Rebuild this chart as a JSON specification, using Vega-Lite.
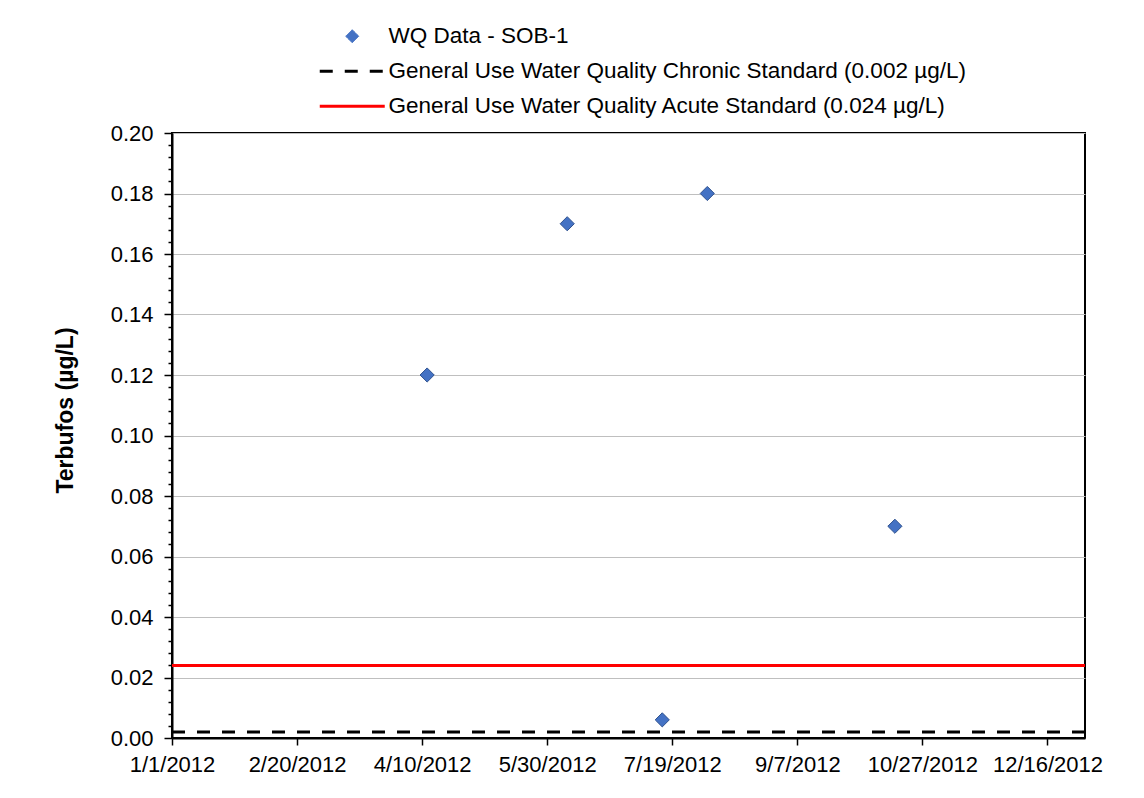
{
  "$schema": "https://vega.github.io/schema/vega-lite/v6.json",
  "width": 913,
  "height": 605,
  "autosize": "none",
  "padding": {"left": 172, "top": 133, "right": 59, "bottom": 60},
  "background": "white",
  "config": {
    "font": "Liberation Sans",
    "view": {"stroke": "black", "strokeWidth": 2}
  },
  "datasets": {
    "samples": [
      {"date": "2012-04-12", "value": 0.12, "series": "WQ Data - SOB-1"},
      {"date": "2012-06-07", "value": 0.17, "series": "WQ Data - SOB-1"},
      {"date": "2012-07-15", "value": 0.006, "series": "WQ Data - SOB-1"},
      {"date": "2012-08-02", "value": 0.18, "series": "WQ Data - SOB-1"},
      {"date": "2012-10-16", "value": 0.07, "series": "WQ Data - SOB-1"}
    ],
    "standards": [
      {"series": "General Use Water Quality Chronic Standard (0.002 µg/L)", "value": 0.002},
      {"series": "General Use Water Quality Acute Standard (0.024 µg/L)", "value": 0.024}
    ]
  },
  "resolve": {"axis": {"y": "independent"}},
  "layer": [
    {
      "data": {"name": "standards"},
      "mark": {"type": "rule", "strokeWidth": 3},
      "encoding": {
        "y": {
          "field": "value",
          "type": "quantitative",
          "scale": {"domain": [0, 0.2], "nice": false, "zero": true},
          "axis": {
            "values": [0, 0.02, 0.04, 0.06, 0.08, 0.1, 0.12, 0.14, 0.16, 0.18, 0.2],
            "format": ".2f",
            "labelFontSize": 22,
            "labelColor": "black",
            "labelPadding": 11,
            "tickSize": 8,
            "tickColor": "black",
            "tickWidth": 1.5,
            "domainColor": "black",
            "domainWidth": 2,
            "grid": true,
            "gridColor": "#bfbfbf",
            "gridWidth": 1,
            "title": "Terbufos (µg/L)",
            "titleFontSize": 23,
            "titleFontWeight": "bold",
            "titleColor": "black",
            "titlePadding": 33,
            "titleY": 277
          }
        },
        "color": {
          "field": "series",
          "type": "nominal",
          "scale": {
            "domain": ["WQ Data - SOB-1", "General Use Water Quality Chronic Standard (0.002 µg/L)", "General Use Water Quality Acute Standard (0.024 µg/L)"],
            "range": ["#4472C4", "black", "#FF0000"]
          },
          "legend": {
            "title": null,
            "orient": "none",
            "legendX": 169,
            "legendY": -108,
            "padding": 0,
            "labelFontSize": 22.5,
            "labelColor": "black",
            "labelLimit": 0,
            "labelOffset": 25,
            "rowPadding": 12,
            "symbolSize": 100,
            "encode": {
              "symbols": {
                "update": {
                  "shape": {"signal": "datum.value === 'WQ Data - SOB-1' ? 'diamond' : 'stroke'"},
                  "size": {"signal": "datum.value === 'WQ Data - SOB-1' ? 170 : 4225"},
                  "fill": {"signal": "datum.value === 'WQ Data - SOB-1' ? '#4472C4' : 'transparent'"},
                  "stroke": {"signal": "datum.value === 'WQ Data - SOB-1' ? '#2F528F' : (datum.value === 'General Use Water Quality Chronic Standard (0.002 µg/L)' ? 'black' : '#FF0000')"},
                  "strokeWidth": {"signal": "datum.value === 'WQ Data - SOB-1' ? 1 : 3"},
                  "strokeDash": {"signal": "datum.value === 'General Use Water Quality Chronic Standard (0.002 µg/L)' ? [13, 12] : [1, 0]"},
                  "opacity": {"value": 1}
                }
              }
            }
          }
        },
        "strokeDash": {
          "field": "series",
          "type": "nominal",
          "scale": {
            "domain": ["General Use Water Quality Chronic Standard (0.002 µg/L)", "General Use Water Quality Acute Standard (0.024 µg/L)"],
            "range": [[13, 12], [1, 0]]
          },
          "legend": null
        }
      }
    },
    {
      "data": {"name": "samples"},
      "mark": {"type": "point", "shape": "diamond", "filled": true, "size": 200, "stroke": "#2F528F", "strokeWidth": 1, "opacity": 1},
      "encoding": {
        "x": {
          "field": "date",
          "type": "temporal",
          "scale": {
            "type": "utc",
            "domain": [{"year": 2012, "month": 1, "date": 1, "utc": true}, {"year": 2012, "month": 12, "date": 31, "utc": true}]
          },
          "axis": {
            "values": [
              {"year": 2012, "month": 1, "date": 1, "utc": true},
              {"year": 2012, "month": 2, "date": 20, "utc": true},
              {"year": 2012, "month": 4, "date": 10, "utc": true},
              {"year": 2012, "month": 5, "date": 30, "utc": true},
              {"year": 2012, "month": 7, "date": 19, "utc": true},
              {"year": 2012, "month": 9, "date": 7, "utc": true},
              {"year": 2012, "month": 10, "date": 27, "utc": true},
              {"year": 2012, "month": 12, "date": 16, "utc": true}
            ],
            "labelExpr": "(utcmonth(datum.value) + 1) + '/' + utcdate(datum.value) + '/' + utcyear(datum.value)",
            "labelFontSize": 22,
            "labelColor": "black",
            "labelPadding": 9,
            "labelFlush": false,
            "labelOverlap": false,
            "tickSize": 7,
            "tickColor": "black",
            "tickWidth": 1.5,
            "domainColor": "black",
            "domainWidth": 2,
            "grid": false,
            "title": null
          }
        },
        "y": {
          "field": "value",
          "type": "quantitative",
          "scale": {"domain": [0, 0.2], "nice": false},
          "axis": {
            "orient": "left",
            "values": [0.004, 0.008, 0.012, 0.016, 0.024, 0.028, 0.032, 0.036, 0.044, 0.048, 0.052, 0.056, 0.064, 0.068, 0.072, 0.076, 0.084, 0.088, 0.092, 0.096, 0.104, 0.108, 0.112, 0.116, 0.124, 0.128, 0.132, 0.136, 0.144, 0.148, 0.152, 0.156, 0.164, 0.168, 0.172, 0.176, 0.184, 0.188, 0.192, 0.196],
            "labels": false,
            "domain": false,
            "grid": false,
            "tickSize": 4,
            "tickColor": "black",
            "tickWidth": 1.5,
            "title": null
          }
        },
        "color": {"field": "series", "type": "nominal"}
      }
    }
  ]
}
